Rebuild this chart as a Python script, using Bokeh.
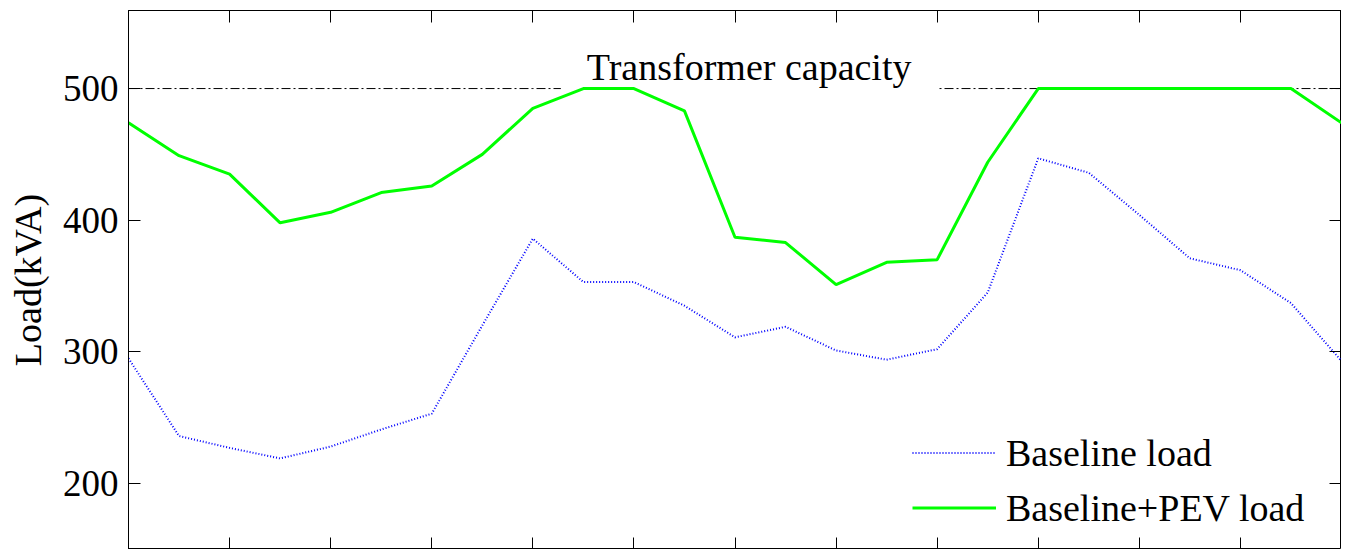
from bokeh.plotting import figure
from bokeh.models import (Legend, LegendItem, Label, LinearAxis, FixedTicker,
                          ColumnDataSource, CustomJSTickFormatter)
from bokeh.embed import file_html
from bokeh.resources import INLINE

hours = list(range(25))
baseline = [295, 236, 227, 219, 228, 241, 253, 320, 386, 353, 353, 335, 311, 319,
            301, 294, 302, 345, 447, 436, 404, 371, 362, 337, 293]
pev = [474, 449, 435, 398, 406, 421, 426, 450, 485, 500, 500, 483, 387, 383,
       351, 368, 370, 444, 500, 500, 500, 500, 500, 500, 474]
capacity = 500
x_ticks = list(range(0, 25, 2))
y_ticks = [200, 300, 400, 500]

FONT = "Liberation Serif"

src = ColumnDataSource(dict(h=hours, base=baseline, pev=pev, cap=[capacity] * len(hours)))

p = figure(width=1341, height=549, output_backend="svg", toolbar_location=None,
           x_range=(0, 24), y_range=(149.8, 559.3),
           min_border_left=128, min_border_right=0, min_border_top=10, min_border_bottom=0,
           x_axis_location=None, y_axis_location=None)
p.grid.visible = False
p.outline_line_color = "black"
p.outline_line_width = 1
p.background_fill_color = "white"

blank = CustomJSTickFormatter(code="return ''")

def style_axis(ax, labels):
    ax.major_tick_in = 12
    ax.major_tick_out = 0
    ax.minor_tick_in = 0
    ax.minor_tick_out = 0
    ax.axis_line_color = "black"
    ax.major_tick_line_color = "black"
    ax.major_tick_line_width = 1
    if not labels:
        ax.formatter = blank
        ax.major_label_standoff = 0

left = LinearAxis(ticker=FixedTicker(ticks=y_ticks), axis_label="Load(kVA)")
style_axis(left, True)
left.major_label_text_font = FONT
left.major_label_text_font_size = "37px"
left.major_label_text_color = "black"
left.major_label_standoff = 10
left.axis_label_text_font = FONT
left.axis_label_text_font_size = "38px"
left.axis_label_text_font_style = "normal"
left.axis_label_text_color = "black"
left.axis_label_standoff = 11
p.add_layout(left, "left")

right = LinearAxis(ticker=FixedTicker(ticks=y_ticks))
style_axis(right, False)
p.add_layout(right, "right")

bottom = LinearAxis(ticker=FixedTicker(ticks=x_ticks))
style_axis(bottom, False)
p.add_layout(bottom, "below")

top = LinearAxis(ticker=FixedTicker(ticks=x_ticks))
style_axis(top, False)
p.add_layout(top, "above")

cap_r = p.line("h", "cap", source=src, line_color="black", line_width=1,
               line_dash="9 3 2 3", level="underlay")

lbl = Label(x=12.28, y=516, text="Transformer capacity", text_align="center",
            text_baseline="alphabetic", text_font=FONT, text_font_size="38px",
            text_color="black", background_fill_color="white",
            padding=(26, 10), level="underlay")
p.add_layout(lbl)

r_base = p.line("h", "base", source=src, line_color="#0000ff", line_width=2,
                line_dash="1 2")
r_pev = p.line("h", "pev", source=src, line_color="#00ff00", line_width=3)

legend = Legend(items=[LegendItem(label="Baseline load", renderers=[r_base]),
                       LegendItem(label="Baseline+PEV load", renderers=[r_pev])],
                location=(784, 19), padding=0, margin=0, spacing=10,
                glyph_width=84, glyph_height=45, label_height=45, label_standoff=10,
                label_text_font=FONT, label_text_font_size="38px",
                label_text_color="black", border_line_color=None,
                background_fill_alpha=0)
p.add_layout(legend)

open("out.html", "w").write(file_html(p, INLINE))
